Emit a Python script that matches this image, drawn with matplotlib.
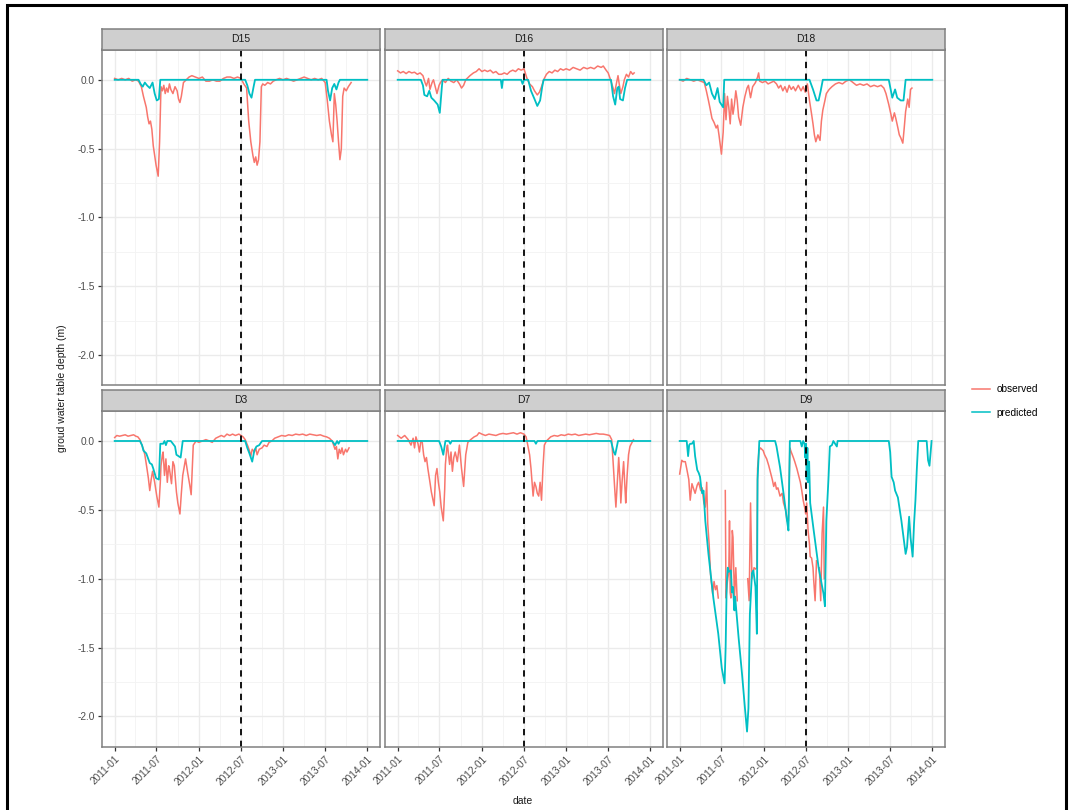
import numpy as np
import matplotlib
matplotlib.use("Agg")
import matplotlib.pyplot as plt
from matplotlib.patches import Rectangle
from matplotlib.lines import Line2D

plt.rcParams["font.family"] = ["Liberation Sans", "DejaVu Sans"]

NA = np.nan
# (months since 2011-01-01, depth in m)
d15_obs = [(0, 0.01), (0.5, 0.0), (1.0, 0.01), (1.5, 0.0), (2.0, 0.01), (2.5, -0.01), (3.0, 0.0),
           (3.4, -0.01), (3.8, -0.05), (4.1, -0.12), (4.5, -0.20), (4.7, -0.27), (4.9, -0.32),
           (5.1, -0.30), (5.3, -0.36), (5.5, -0.48), (5.7, -0.55), (5.9, -0.62), (6.2, -0.70),
           (6.4, -0.45), (6.6, -0.05), (6.8, -0.08), (7.0, -0.04), (7.2, -0.10), (7.4, -0.06),
           (7.6, -0.09), (7.8, -0.03), (8.0, -0.07), (8.3, -0.10), (8.6, -0.05), (8.9, -0.08),
           (9.1, -0.14), (9.3, -0.165), (9.5, -0.12), (9.8, -0.02), (10.2, 0.0), (10.6, 0.02),
           (11.0, 0.03), (11.5, 0.02), (12.0, 0.01), (12.5, 0.02), (13.0, -0.01), (13.5, -0.01),
           (14.0, 0.0), (14.5, -0.01), (15.0, -0.01), (15.5, 0.01), (16.0, 0.02), (16.5, 0.02),
           (17.0, 0.01), (17.5, 0.02), (18.0, 0.01), (18.4, -0.03), (18.8, -0.06), (19.1, -0.30),
           (19.4, -0.45), (19.7, -0.55), (19.9, -0.60), (20.1, -0.56), (20.3, -0.62), (20.5, -0.58),
           (20.7, -0.45), (20.9, -0.05), (21.1, -0.03), (21.4, -0.04), (21.8, -0.02), (22.2, -0.03),
           (22.6, -0.01), (23.0, 0.0), (23.5, 0.01), (24.0, 0.0), (24.5, 0.01), (25.0, 0.0),
           (25.5, -0.01), (26.0, 0.0), (26.5, 0.01), (27.0, 0.02), (27.5, 0.01), (28.0, 0.0),
           (28.5, 0.01), (29.0, 0.0), (29.5, 0.01), (30.0, -0.02), (30.3, -0.15), (30.6, -0.30),
           (30.9, -0.40), (31.1, -0.45), (31.3, -0.10), (31.5, -0.18), (31.7, -0.30), (31.9, -0.45),
           (32.1, -0.58), (32.3, -0.50), (32.5, -0.12), (32.7, -0.06), (33.0, -0.08), (33.3, -0.05),
           (33.7, -0.02)]
d15_pred = [(0, 0), (3.4, 0), (3.7, -0.03), (4.0, -0.05), (4.3, -0.02), (4.6, -0.04), (5.0, -0.06),
            (5.4, -0.02), (5.7, -0.10), (6.0, -0.15), (6.3, -0.14), (6.5, 0), (18.6, 0),
            (18.9, -0.04), (19.2, -0.10), (19.5, -0.13), (19.8, -0.05), (20.0, 0), (30.2, 0),
            (30.4, -0.08), (30.7, -0.15), (31.0, -0.06), (31.3, -0.03), (31.6, -0.07),
            (31.9, -0.02), (32.1, 0), (36.0, 0)]

d16_obs = [(0, 0.065), (0.4, 0.05), (0.8, 0.06), (1.2, 0.045), (1.6, 0.06), (2.0, 0.05), (2.4, 0.055),
           (2.8, 0.04), (3.2, 0.05), (3.6, 0.03), (3.9, -0.02), (4.1, -0.045), (4.4, 0.01), (4.6, -0.07),
           (4.9, -0.02), (5.1, 0.0), (5.4, -0.06), (5.6, -0.10), (5.9, -0.04), (6.1, -0.02), (6.4, 0.0),
           (6.8, -0.02), (7.2, 0.01), (7.6, -0.01), (8.0, -0.02), (8.4, 0.0), (8.8, -0.03), (9.1, -0.06),
           (9.4, -0.04), (9.7, 0.0), (10.3, 0.03), (10.8, 0.05), (11.2, 0.06), (11.6, 0.08), (12.0, 0.06),
           (12.4, 0.07), (12.8, 0.06), (13.2, 0.07), (13.6, 0.05), (14.0, 0.06), (14.4, 0.04),
           (14.8, 0.04), (15.2, 0.05), (15.6, 0.04), (16.0, 0.06), (16.4, 0.07), (16.8, 0.06),
           (17.2, 0.08), (17.6, 0.07), (18.0, 0.08), (18.3, 0.03), (18.5, 0.0), (18.8, -0.03),
           (19.2, -0.05), (19.5, -0.08), (19.9, -0.11), (20.2, -0.09), (20.5, -0.05), (20.8, 0.0),
           (21.2, 0.04), (21.6, 0.06), (22.0, 0.05), (22.4, 0.07), (22.8, 0.06), (23.2, 0.08),
           (23.6, 0.07), (24.0, 0.08), (24.5, 0.07), (25.0, 0.09), (25.5, 0.08), (26.0, 0.07),
           (26.5, 0.09), (27.0, 0.08), (27.5, 0.09), (28.0, 0.08), (28.5, 0.10), (29.0, 0.09),
           (29.3, 0.10), (29.7, 0.07), (30.0, 0.05), (30.4, -0.01), (30.7, -0.06), (30.9, -0.10),
           (31.2, -0.02), (31.4, 0.03), (31.6, -0.04), (31.8, -0.10), (32.1, -0.05), (32.3, 0.0),
           (32.6, 0.04), (32.9, 0.02), (33.2, 0.06), (33.5, 0.04), (33.7, 0.05)]
d16_pred = [(0, 0), (3.3, 0), (3.6, -0.04), (3.8, -0.11), (4.2, -0.12), (4.5, -0.08), (4.8, -0.13),
            (5.2, -0.15), (5.7, -0.18), (6.0, -0.24), (6.3, -0.05), (6.4, 0), (14.7, 0),
            (14.85, -0.06), (15.0, 0), (17.6, 0), (17.8, -0.03), (18.0, 0), (18.6, 0), (19.0, -0.08),
            (19.5, -0.14), (19.9, -0.19), (20.3, -0.15), (20.6, -0.05), (20.8, 0), (30.4, 0),
            (30.7, -0.12), (31.0, -0.18), (31.3, -0.06), (31.5, -0.05), (31.7, -0.14), (32.1, -0.15),
            (32.4, -0.06), (32.7, 0), (36.0, 0)]

d18_obs = [(0, 0.0), (0.5, -0.01), (1.0, 0.01), (1.5, 0.0), (2.0, -0.01), (2.5, 0.0), (3.0, -0.01),
           (3.5, -0.02), (3.8, -0.08), (4.1, -0.15), (4.3, -0.20), (4.6, -0.28), (4.9, -0.31),
           (5.2, -0.35), (5.4, -0.33), (5.6, -0.40), (5.95, -0.54), (6.2, -0.38), (6.4, -0.10),
           (6.6, -0.29), (6.8, -0.12), (7.0, -0.20), (7.2, -0.32), (7.4, -0.14), (7.6, -0.25),
           (7.8, -0.18), (8.0, -0.08), (8.2, -0.15), (8.4, -0.27), (8.7, -0.33), (9.0, -0.20),
           (9.3, -0.12), (9.6, -0.06), (9.8, -0.04), (10.1, -0.13), (10.4, -0.05), (10.8, -0.02),
           (11.1, 0.02), (11.25, 0.05), (11.4, -0.01), (11.8, -0.02), (12.2, -0.01), (12.6, -0.03),
           (13.0, -0.02), (13.4, -0.01), (13.8, -0.03), (14.1, -0.06), (14.4, -0.04), (14.7, -0.08),
           (15.0, -0.05), (15.3, -0.09), (15.6, -0.04), (15.9, -0.07), (16.2, -0.05), (16.5, -0.08),
           (16.9, -0.04), (17.3, -0.08), (17.6, -0.05), (17.9, -0.09), (18.2, -0.03), (18.5, -0.15),
           (18.8, -0.25), (19.0, -0.32), (19.2, -0.40), (19.4, -0.45), (19.7, -0.40), (20.0, -0.44),
           (20.2, -0.30), (20.4, -0.22), (20.7, -0.15), (20.9, -0.10), (21.3, -0.07), (21.7, -0.05),
           (22.2, -0.03), (22.7, -0.02), (23.2, -0.03), (23.7, -0.01), (24.2, 0.0), (24.7, -0.02),
           (25.2, -0.04), (25.7, -0.03), (26.2, -0.04), (26.7, -0.03), (27.2, -0.05), (27.7, -0.04),
           (28.2, -0.05), (28.7, -0.04), (29.1, -0.06), (29.4, -0.10), (29.8, -0.18), (30.1, -0.25),
           (30.3, -0.30), (30.6, -0.24), (30.8, -0.28), (31.1, -0.35), (31.3, -0.40), (31.5, -0.42),
           (31.8, -0.46), (32.0, -0.35), (32.2, -0.23), (32.5, -0.14), (32.7, -0.20), (32.9, -0.07),
           (33.1, -0.06)]
d18_pred = [(0, 0), (3.4, 0), (3.8, -0.04), (4.2, -0.02), (4.6, -0.10), (5.0, -0.14), (5.4, -0.06),
            (5.7, -0.16), (6.2, -0.20), (6.35, 0), (18.5, 0), (19.0, -0.07), (19.5, -0.15),
            (19.8, -0.15), (20.1, -0.08), (20.4, 0), (29.8, 0), (30.3, -0.13), (30.7, -0.07),
            (31.0, -0.13), (31.5, -0.15), (31.9, -0.15), (32.2, 0), (36.0, 0)]

d3_obs = [(0, 0.025), (0.3, 0.04), (0.7, 0.035), (1.1, 0.04), (1.5, 0.045), (1.9, 0.035), (2.3, 0.04),
          (2.7, 0.045), (3.0, 0.035), (3.3, 0.03), (3.6, 0.01), (3.8, -0.02), (4.1, -0.06), (4.3, -0.10),
          (4.6, -0.20), (4.8, -0.27), (5.0, -0.36), (5.2, -0.28), (5.4, -0.22), (5.7, -0.30),
          (6.0, -0.40), (6.3, -0.48), (6.5, -0.30), (6.6, -0.18), (6.8, -0.10), (6.9, -0.08),
          (7.1, -0.25), (7.3, -0.13), (7.5, -0.30), (7.7, -0.18), (7.8, -0.20), (8.1, -0.31),
          (8.3, -0.15), (8.5, -0.18), (8.8, -0.37), (9.0, -0.45), (9.3, -0.53), (9.5, -0.38),
          (9.7, -0.25), (10.1, -0.13), (10.4, -0.23), (10.7, -0.32), (10.9, -0.39), (11.1, -0.15),
          (11.2, -0.03), (11.6, 0.0), (12.0, -0.01), (12.5, 0.0), (13.0, 0.01), (13.5, 0.0),
          (13.9, -0.01), (14.4, 0.02), (14.8, 0.03), (15.2, 0.04), (15.6, 0.03), (16.0, 0.05),
          (16.4, 0.04), (16.8, 0.05), (17.2, 0.04), (17.7, 0.05), (18.0, 0.04), (18.3, 0.03),
          (18.6, 0.01), (19.0, -0.04), (19.2, -0.07), (19.4, -0.11), (19.6, -0.06), (19.9, -0.08),
          (20.1, -0.05), (20.3, -0.10), (20.6, -0.06), (21.0, -0.05), (21.3, -0.03), (21.7, -0.04),
          (22.0, -0.01), (22.4, 0.0), (22.8, 0.02), (23.3, 0.03), (23.8, 0.04), (24.3, 0.035),
          (24.8, 0.045), (25.3, 0.04), (25.8, 0.05), (26.3, 0.045), (26.8, 0.05), (27.3, 0.04),
          (27.8, 0.05), (28.3, 0.045), (28.8, 0.04), (29.3, 0.045), (29.8, 0.035), (30.2, 0.03),
          (30.6, 0.02), (31.0, 0.0), (31.2, -0.03), (31.4, -0.06), (31.6, -0.04), (31.8, -0.13),
          (32.0, -0.06), (32.2, -0.09), (32.4, -0.05), (32.6, -0.10), (32.9, -0.06), (33.1, -0.08),
          (33.4, -0.05)]
d3_pred = [(0, 0), (3.6, 0), (3.9, -0.03), (4.1, -0.07), (4.5, -0.09), (5.0, -0.16), (5.3, -0.17),
           (5.5, -0.20), (5.9, -0.27), (6.3, -0.28), (6.5, -0.02), (6.9, -0.02), (7.1, 0), (7.3, -0.03),
           (7.5, 0), (8.0, 0), (8.3, -0.02), (8.6, -0.04), (8.8, -0.10), (9.1, -0.11), (9.4, -0.12),
           (9.7, 0), (18.6, 0), (18.9, -0.05), (19.2, -0.09), (19.6, -0.15), (19.9, -0.07),
           (20.2, -0.04), (20.6, -0.03), (21.0, 0), (31.0, 0), (31.4, -0.03), (31.7, 0),
           (31.9, -0.02), (32.1, 0), (36.0, 0)]

d7_obs = [(0, 0.04), (0.5, 0.02), (1.0, 0.04), (1.5, 0.01), (1.9, -0.03), (2.2, 0.02), (2.4, -0.05),
          (2.6, 0.03), (2.9, -0.02), (3.1, -0.08), (3.3, 0.0), (3.5, -0.01), (3.7, -0.10), (3.9, -0.15),
          (4.1, -0.12), (4.3, -0.20), (4.6, -0.30), (4.8, -0.37), (5.0, -0.42), (5.2, -0.47),
          (5.4, -0.25), (5.6, -0.20), (5.8, -0.30), (6.0, -0.37), (6.2, -0.48), (6.5, -0.58),
          (6.7, -0.35), (6.8, -0.17), (7.0, -0.05), (7.1, -0.03), (7.4, -0.17), (7.6, -0.08),
          (7.8, -0.22), (8.0, -0.12), (8.2, -0.08), (8.5, -0.15), (8.8, -0.03), (9.1, -0.20),
          (9.4, -0.33), (9.7, -0.10), (10.0, -0.01), (10.4, 0.01), (10.9, 0.03), (11.3, 0.04),
          (11.6, 0.06), (12.0, 0.05), (12.5, 0.04), (13.0, 0.05), (13.5, 0.045), (14.0, 0.04),
          (14.5, 0.05), (15.0, 0.055), (15.5, 0.05), (16.0, 0.055), (16.5, 0.06), (17.0, 0.05),
          (17.5, 0.06), (18.0, 0.05), (18.3, 0.03), (18.5, -0.02), (18.8, -0.10), (19.0, -0.20),
          (19.3, -0.40), (19.5, -0.30), (19.7, -0.33), (19.9, -0.38), (20.1, -0.40), (20.3, -0.30),
          (20.5, -0.43), (20.7, -0.20), (20.9, -0.03), (21.2, 0.0), (21.4, 0.01), (21.8, 0.03),
          (22.3, 0.04), (22.8, 0.035), (23.3, 0.045), (23.8, 0.04), (24.3, 0.05), (24.8, 0.045),
          (25.3, 0.05), (25.8, 0.04), (26.3, 0.045), (26.8, 0.05), (27.3, 0.045), (27.8, 0.05),
          (28.3, 0.055), (28.8, 0.05), (29.3, 0.05), (29.8, 0.045), (30.2, 0.04), (30.5, 0.01),
          (30.7, -0.15), (30.9, -0.32), (31.1, -0.48), (31.3, -0.30), (31.5, -0.12), (31.7, -0.30),
          (31.8, -0.45), (32.0, -0.28), (32.2, -0.15), (32.4, -0.35), (32.5, -0.45), (32.7, -0.25),
          (32.9, -0.10), (33.1, -0.04), (33.3, -0.02), (33.6, 0.01)]
d7_pred = [(0, 0), (5.9, 0), (6.2, -0.04), (6.5, -0.10), (6.8, 0), (7.3, 0), (7.5, -0.02), (7.7, 0),
           (19.5, 0), (19.7, -0.02), (19.9, 0), (30.4, 0), (30.8, -0.08), (31.0, -0.10), (31.4, 0),
           (36.0, 0)]

d9_obs = [(0, -0.24), (0.3, -0.14), (0.5, -0.15), (0.8, -0.15), (1.0, -0.20), (1.3, -0.28), (1.5, -0.43),
          (1.75, -0.31), (2.0, -0.35), (2.2, -0.38), (2.5, -0.32), (2.7, -0.30), (3.0, -0.36),
          (3.2, -0.34), (3.45, -0.45), (3.65, -0.48), (3.85, -0.30), (4.0, -0.60), (4.2, -0.75),
          (4.4, -0.97), (4.7, -1.11), (4.9, -1.02), (5.1, -1.08), (5.3, -1.05), (5.5, -1.14),
          (6.0, NA), (6.5, -0.36), (6.6, -1.14), (6.8, -1.02), (7.0, -0.95), (7.1, -0.58),
          (7.2, -1.10), (7.3, -1.14), (7.5, -0.65), (7.6, -0.70), (7.8, -1.14), (8.0, -0.92),
          (8.2, -1.16), (9.0, NA), (9.7, -1.00), (9.9, -1.16), (10.1, -0.45), (10.3, -1.00),
          (10.6, -0.92), (10.8, -0.93), (11.0, -0.92), (11.1, -0.20), (11.3, -0.07), (11.5, -0.05),
          (11.7, -0.06), (11.9, -0.07), (12.1, -0.10), (12.4, -0.13), (12.7, -0.18), (12.9, -0.22),
          (13.2, -0.28), (13.4, -0.33), (13.6, -0.30), (13.8, -0.35), (14.0, -0.34), (14.3, -0.40),
          (14.6, -0.38), (14.8, -0.45), (15.1, -0.50), (15.3, -0.58), (15.5, -0.58), (15.7, -0.05),
          (15.9, -0.08), (16.2, -0.12), (16.4, -0.15), (16.7, -0.20), (16.9, -0.24), (17.2, -0.30),
          (17.4, -0.36), (17.6, -0.43), (17.8, -0.48), (17.96, -0.53), (18.1, -0.45), (18.3, -0.65),
          (18.5, -0.75), (18.6, -0.84), (18.8, -0.85), (19.0, -0.92), (19.1, -1.01), (19.3, -1.16),
          (19.5, -0.87), (19.7, NA), (19.9, -0.92), (20.1, -1.16), (20.3, -0.67), (20.5, -0.48),
          (20.6, -1.0)]
d9_pred = [(0, 0), (1.0, 0), (1.2, -0.11), (1.35, -0.03), (1.5, -0.02), (1.75, -0.02), (2.0, 0),
           (2.2, -0.11), (2.5, -0.21), (2.7, -0.23), (2.9, -0.26), (3.05, -0.33), (3.2, -0.38),
           (3.4, -0.36), (3.65, -0.58), (4.1, -0.82), (4.8, -1.14), (5.5, -1.40), (6.0, -1.65),
           (6.4, -1.76), (6.55, -1.50), (6.7, -1.04), (6.85, -0.92), (7.0, -0.95), (7.3, -0.94),
           (7.45, -1.10), (7.6, -1.06), (7.8, -1.23), (7.9, -1.13), (8.4, -1.43), (8.9, -1.70),
           (9.3, -1.94), (9.6, -2.11), (9.8, -1.94), (10.0, -1.26), (10.3, -0.96), (10.5, -0.94),
           (10.8, -1.06), (11.0, -1.40), (11.1, -0.28), (11.35, 0), (13.6, 0), (13.8, -0.04),
           (14.3, -0.19), (14.8, -0.38), (15.3, -0.58), (15.5, -0.65), (15.7, 0), (17.2, 0),
           (17.4, -0.04), (17.6, 0), (17.8, -0.02), (17.9, -0.12), (18.0, -0.02), (18.1, -0.28),
           (18.2, -0.05), (18.3, -0.30), (18.45, -0.15), (18.6, -0.45), (19.1, -0.65), (19.8, -0.92),
           (20.5, -1.11), (20.7, -1.20), (20.9, -0.58), (21.2, -0.28), (21.4, -0.04), (21.7, -0.03),
           (21.9, 0), (22.4, -0.04), (22.5, 0), (29.8, 0), (30.0, -0.08), (30.2, -0.26), (30.5, -0.30),
           (30.7, -0.36), (31.1, -0.41), (31.6, -0.58), (32.0, -0.74), (32.2, -0.82), (32.4, -0.77),
           (32.7, -0.55), (32.9, -0.70), (33.2, -0.84), (33.4, -0.60), (33.6, -0.43), (33.8, -0.20),
           (34.0, 0), (35.2, 0), (35.4, -0.14), (35.6, -0.18), (35.9, 0)]

stations = ["D15", "D16", "D18", "D3", "D7", "D9"]
observed = [d15_obs, d16_obs, d18_obs, d3_obs, d7_obs, d9_obs]
predicted = [d15_pred, d16_pred, d18_pred, d3_pred, d7_pred, d9_pred]

x_breaks = ["2011-01", "2011-07", "2012-01", "2012-07", "2013-01", "2013-07", "2014-01"]
x_minor = ["2011-04", "2011-10", "2012-04", "2012-10", "2013-04", "2013-10"]
y_breaks = [0.0, -0.5, -1.0, -1.5, -2.0]
y_labels = ["0.0", "-0.5", "-1.0", "-1.5", "-2.0"]
split_date = "2012-07-01"

obs_col = "#F8766D"
pred_col = "#00BFC4"

base = np.datetime64("2011-01-01")


def to_series(pairs):
    m = np.array([p[0] for p in pairs], dtype=float)
    v = np.array([p[1] for p in pairs], dtype=float)
    d = base + np.round(m * 30.44 * 24).astype("timedelta64[h]")
    return d, v


W, H = 1074, 810
fig = plt.figure(figsize=(W / 100, H / 100), dpi=100)

col_left = [102, 385, 667]
panel_w = 278
panel_top = [49.5, 410.7]
panel_h = 336
strip_h = 21

xmin = base - np.timedelta64(55, "D")
xmax = np.datetime64("2014-01-01") + np.timedelta64(55, "D")

for i, name in enumerate(stations):
    r, c = divmod(i, 3)
    L, T = col_left[c], panel_top[r]
    ax = fig.add_axes([L / W, 1 - (T + panel_h) / H, panel_w / W, panel_h / H])
    st = fig.add_axes([L / W, 1 - T / H, panel_w / W, strip_h / H])

    # facet strip
    st.set_facecolor("#CFCFCF")
    st.set_xticks([])
    st.set_yticks([])
    for s in st.spines.values():
        s.set_color("#808080")
        s.set_linewidth(1.1)
    st.text(0.5, 0.5, name, ha="center", va="center", fontsize=7.5, color="#1A1A1A",
            transform=st.transAxes)

    od, ov = to_series(observed[i])
    pd_, pv = to_series(predicted[i])
    ax.plot(od, ov, color=obs_col, lw=1.1)
    ax.plot(pd_, pv, color=pred_col, lw=1.3)
    ax.axvline(np.datetime64(split_date), color="black", lw=1.3, ls=(0, (3.5, 3)))

    ax.set_xlim(xmin, xmax)
    ax.set_ylim(-2.22, 0.22)
    ax.set_xticks([np.datetime64(b + "-01") for b in x_breaks])
    ax.set_xticks([np.datetime64(b + "-01") for b in x_minor], minor=True)
    ax.set_yticks(y_breaks)
    ax.set_yticks([-0.25, -0.75, -1.25, -1.75], minor=True)
    ax.grid(which="major", color="#EBEBEB", lw=1.0)
    ax.grid(which="minor", color="#F3F3F3", lw=0.6)
    ax.set_axisbelow(True)
    for s in ax.spines.values():
        s.set_color("#808080")
        s.set_linewidth(1.1)
    ax.tick_params(which="minor", length=0)
    ax.tick_params(which="major", length=3, width=0.9, color="#333333",
                   labelsize=7.3, labelcolor="#4D4D4D", pad=2)

    if c == 0:
        ax.set_yticklabels(y_labels)
    else:
        ax.tick_params(left=False, labelleft=False)
    if r == 1:
        ax.set_xticklabels(x_breaks, rotation=45, ha="right", va="top",
                           rotation_mode="anchor")
    else:
        ax.tick_params(bottom=False, labelbottom=False)

fig.text(62 / W, 1 - 388 / H, "groud water table depth (m)", rotation=90,
         ha="center", va="center", fontsize=7.5, color="#1A1A1A")
fig.text(523 / W, 1 - 801 / H, "date", ha="center", va="center",
         fontsize=7.5, color="#1A1A1A")

handles = [Line2D([], [], color=obs_col, lw=1.1), Line2D([], [], color=pred_col, lw=1.1)]
fig.legend(handles, ["observed", "predicted"], loc="center left",
           bbox_to_anchor=(963 / W, 1 - 401 / H), frameon=False, fontsize=7.3,
           handlelength=1.8, labelspacing=1.3, handletextpad=0.6)

fig.add_artist(Rectangle((7 / W, -0.02), (1066 - 7) / W, 1 - 5 / H + 0.02,
                         transform=fig.transFigure, fill=False, ec="black", lw=2.2))

fig.savefig("out.png", dpi=100)
